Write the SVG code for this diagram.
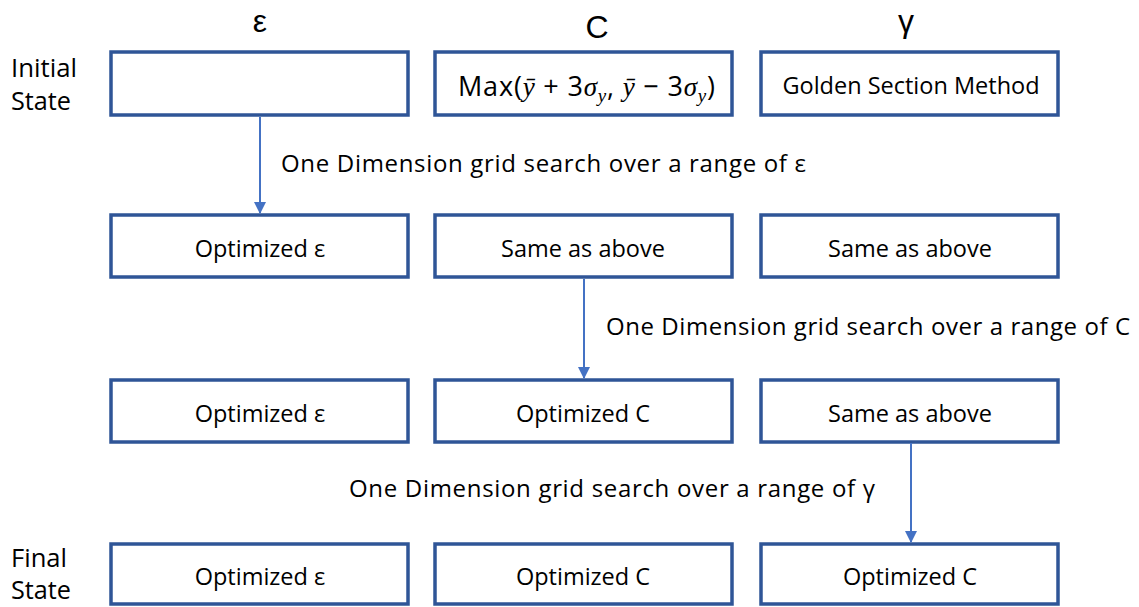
<svg xmlns="http://www.w3.org/2000/svg" width="1139" height="607" viewBox="0 0 1139 607">
<defs>
<style>
.box{fill:#fff;stroke:#2F5597;stroke-width:3.5}
.t{font-family:"Open Sans","Liberation Sans",sans-serif;font-size:23.5px;fill:#000;text-anchor:middle}
.h{font-family:"Liberation Sans","Open Sans",sans-serif;font-size:32px;fill:#000;text-anchor:middle}
.s{font-family:"Open Sans","Liberation Sans",sans-serif;font-size:25px;fill:#000}
.lbl{font-family:"Open Sans","Liberation Sans",sans-serif;font-size:24px;fill:#000}
.m{font-family:"Liberation Serif",serif;font-style:italic}
.c{stroke:#4472C4;stroke-width:2;fill:none}
</style>
<marker id="ah" markerWidth="12" markerHeight="12" refX="11" refY="6" orient="auto" markerUnits="userSpaceOnUse" viewBox="0 0 12 12">
<path d="M0,0 L12,6 L0,12 z" fill="#4472C4"/>
</marker>
</defs>
<rect width="1139" height="607" fill="#fff"/>
<g id="headers">
<text class="h" x="260" y="32">ε</text>
<text class="h" x="597" y="38">C</text>
<text class="h" x="906" y="32">γ</text>
</g>
<g id="side-labels">
<text class="s" x="11" y="77" textLength="66" lengthAdjust="spacingAndGlyphs">Initial</text>
<text class="s" x="11" y="110" textLength="60" lengthAdjust="spacingAndGlyphs">State</text>
<text class="s" x="11" y="567" textLength="56" lengthAdjust="spacingAndGlyphs">Final</text>
<text class="s" x="11" y="599" textLength="60" lengthAdjust="spacingAndGlyphs">State</text>
</g>
<g id="n-eps-init"><rect class="box" x="111" y="52" width="297" height="63"/></g>
<g id="n-c-init"><rect class="box" x="435" y="52" width="297" height="63"/>
<text font-family="'Open Sans','Liberation Sans',sans-serif" font-size="27" x="458" y="96" textLength="257" lengthAdjust="spacing">Max(<tspan class="m">ȳ</tspan> + 3<tspan class="m">σ</tspan><tspan class="m" font-size="19" dy="6">y</tspan><tspan dy="-6">, </tspan><tspan class="m">ȳ</tspan> − 3<tspan class="m">σ</tspan><tspan class="m" font-size="19" dy="6">y</tspan><tspan dy="-6">)</tspan></text></g>
<g id="n-g-init"><rect class="box" x="761" y="52" width="297" height="63"/><text class="t" x="911" y="94">Golden Section Method</text></g>

<g id="n-eps-2"><rect class="box" x="111" y="215" width="297" height="62"/><text class="t" x="260" y="257">Optimized ε</text></g>
<g id="n-c-2"><rect class="box" x="435" y="215" width="297" height="62"/><text class="t" x="583" y="257">Same as above</text></g>
<g id="n-g-2"><rect class="box" x="761" y="215" width="297" height="62"/><text class="t" x="910" y="257">Same as above</text></g>

<g id="n-eps-3"><rect class="box" x="111" y="380" width="297" height="62"/><text class="t" x="260" y="422">Optimized ε</text></g>
<g id="n-c-3"><rect class="box" x="435" y="380" width="297" height="62"/><text class="t" x="583" y="422">Optimized C</text></g>
<g id="n-g-3"><rect class="box" x="761" y="380" width="297" height="62"/><text class="t" x="910" y="422">Same as above</text></g>

<g id="n-eps-4"><rect class="box" x="111" y="544" width="297" height="60"/><text class="t" x="260" y="585">Optimized ε</text></g>
<g id="n-c-4"><rect class="box" x="435" y="544" width="297" height="60"/><text class="t" x="583" y="585">Optimized C</text></g>
<g id="n-g-4"><rect class="box" x="761" y="544" width="297" height="60"/><text class="t" x="910" y="585">Optimized C</text></g>

<g id="connectors">
<line class="c" x1="260" y1="117" x2="260" y2="213" marker-end="url(#ah)"/>
<line class="c" x1="584" y1="279" x2="584" y2="378" marker-end="url(#ah)"/>
<line class="c" x1="911" y1="443" x2="911" y2="542" marker-end="url(#ah)"/>
<text class="lbl" x="281" y="172" textLength="525" lengthAdjust="spacing">One Dimension grid search over a range of ε</text>
<text class="lbl" x="606" y="335" textLength="524" lengthAdjust="spacing">One Dimension grid search over a range of C</text>
<text class="lbl" x="349" y="497" textLength="526" lengthAdjust="spacing">One Dimension grid search over a range of γ</text>
</g>
</svg>
